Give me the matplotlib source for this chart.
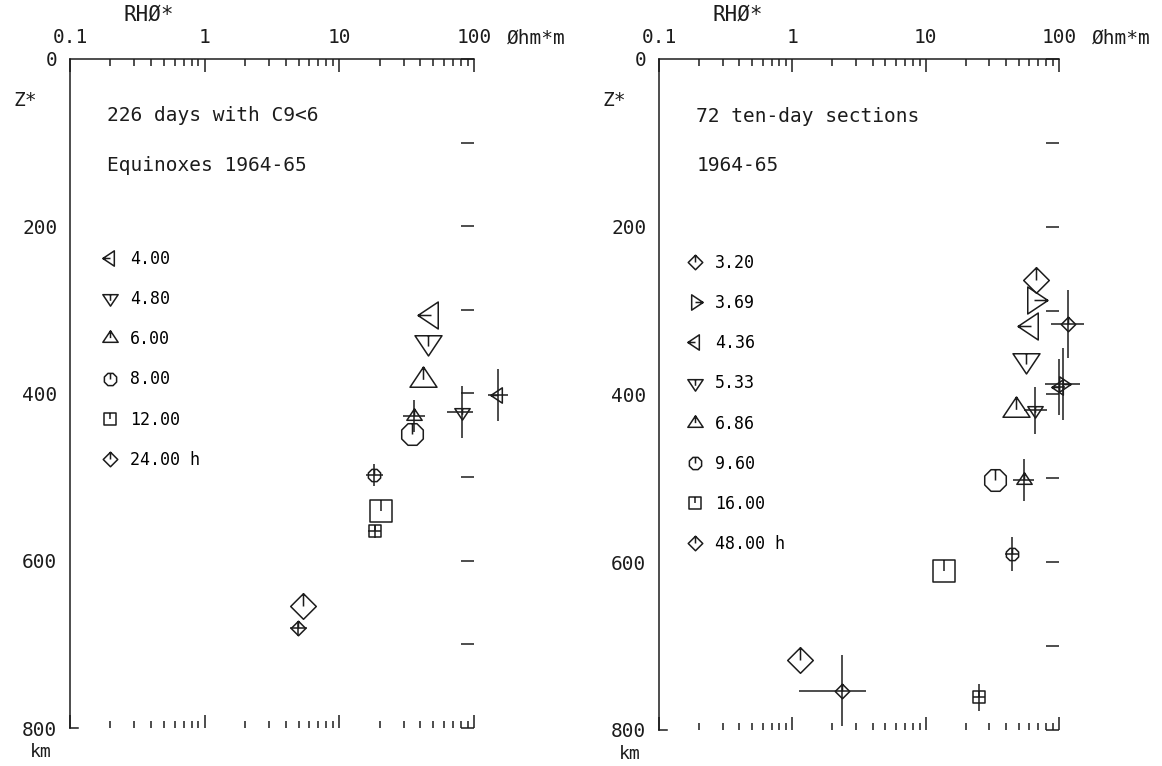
import matplotlib
matplotlib.use('Agg')
import matplotlib.pyplot as plt
from matplotlib.path import Path
from matplotlib.lines import Line2D
from matplotlib.ticker import MultipleLocator, NullFormatter

plt.rcParams['font.family'] = ['DejaVu Sans Mono', 'DejaVu Sans']

INK = '#1c1c1c'

# ---- left panel: 226 quiet days, equinoxes 1964-65 ----
left_labels = ['4.00', '4.80', '6.00', '8.00', '12.00', '24.00 h']
left_marks = ['left', 'down', 'up', 'circle', 'square', 'diamond']
# large symbols (no error bars)
left_rho = [47.8, 45.9, 41.9, 34.6, 20.5, 5.38]
left_z = [306, 338, 384, 449, 541, 654]
# small symbols with error bars
left_rho_e = [150, 81.1, 35.9, 18.2, 18.3, 4.97]
left_z_e = [402, 422, 427, 497.5, 565, 681]
left_dz = [31, 31, 19, 13.5, 8, 9]
left_flo = [1.19, 1.28, 1.21, 1.15, 1.12, 1.15]
left_fhi = [1.19, 1.22, 1.21, 1.15, 1.12, 1.15]

# ---- right panel: 72 ten-day sections 1964-65 ----
right_labels = ['3.20', '3.69', '4.36', '5.33', '6.86', '9.60', '16.00', '48.00 h']
right_marks = ['diamond', 'right', 'left', 'down', 'up', 'circle', 'square', 'diamond']
right_rho = [67.7, 65.0, 62.2, 57.1, 47.9, 33.3, 13.8, 1.135]
right_z = [263, 287, 318, 359, 418, 502, 611, 716]
right_rho_e = [116, 106.4, 99.8, 66.7, 54.3, 44.7, 25.1, 2.34]
right_z_e = [316, 388, 391, 419, 502, 590, 761, 753]
right_dz = [40, 43, 33, 28, 25, 20, 16, 42]
right_flo = [1.32, 1.355, 1.12, 1.21, 1.2, 1.13, 1.11, 2.10]
right_fhi = [1.32, 1.355, 1.12, 1.21, 1.2, 1.13, 1.11, 1.52]


def shape(kind):
    # plotter-style symbols: outline plus a short "hand" to the centre
    if kind == 'left':
        poly = [(-1, 0), (0.5, 1), (0.5, -1)]
        hand = [(-1, 0), (0, 0)]
    elif kind == 'right':
        poly = [(1, 0), (-0.5, -1), (-0.5, 1)]
        hand = [(1, 0), (0, 0)]
    elif kind == 'down':
        poly = [(-1, 0.5), (1, 0.5), (0, -1)]
        hand = [(0, 0.5), (0, -0.3)]
    elif kind == 'up':
        poly = [(-1, -0.5), (1, -0.5), (0, 1)]
        hand = [(0, 1), (0, 0.05)]
    elif kind == 'circle':
        r, a = 0.8, 0.331
        poly = [(a, r), (r, a), (r, -a), (a, -r), (-a, -r), (-r, -a), (-r, a), (-a, r)]
        hand = [(0, r), (0, 0)]
    elif kind == 'square':
        s = 0.78
        poly = [(-s, -s), (s, -s), (s, s), (-s, s)]
        hand = [(0, s), (0, 0)]
    else:
        d = 0.95
        poly = [(0, d), (d, 0), (0, -d), (-d, 0)]
        hand = [(0, d), (0, 0)]
    verts = [(1, 1)] + poly + [poly[0]] + hand
    codes = ([Path.MOVETO, Path.MOVETO] + [Path.LINETO] * (len(poly) - 1)
             + [Path.CLOSEPOLY, Path.MOVETO, Path.LINETO])
    return Path(verts, codes)


def panel(ax, labels, marks, rho, z, rho_e, z_e, dz, flo, fhi, lines, leg_anchor):
    ax.set_xscale('log')
    ax.set_xlim(0.1, 100)
    ax.set_ylim(800, 0)

    for i in range(len(labels)):
        m = shape(marks[i])
        x, y = rho_e[i], z_e[i]
        eb = ax.errorbar(x, y, xerr=[[x - x / flo[i]], [x * fhi[i] - x]], yerr=dz[i],
                         fmt='none', ecolor=INK, elinewidth=1.1, capsize=0)
        for art in eb.get_children():
            art.set_clip_on(False)
        ax.plot(x, y, marker=m, ms=11, mfc='none', mec=INK, mew=1.1,
                ls='none', clip_on=False)
        ax.plot(rho[i], z[i], marker=m, ms=19.4, mfc='none', mec=INK, mew=1.1,
                ls='none', clip_on=False)

    handles = [Line2D([], [], marker=shape(k), ms=11, mfc='none', mec=INK,
                      mew=1.1, ls='none') for k in marks]
    ax.legend(handles, labels, loc='upper left', bbox_to_anchor=leg_anchor,
              frameon=False, fontsize=12, handlelength=1.0, handletextpad=0.7,
              labelspacing=1.33, borderpad=0, borderaxespad=0)

    ax.text(0.19, 68, lines[0], fontsize=14, color=INK, va='center')
    ax.text(0.19, 127, lines[1], fontsize=14, color=INK, va='center')

    # axes in plotter style
    for side in ['top', 'left', 'bottom']:
        ax.spines[side].set_linewidth(1.1)
        ax.spines[side].set_color(INK)
    ax.spines['right'].set_visible(False)
    ax.spines['bottom'].set_bounds(0.1, 0.115)

    ax.set_xticks([0.1, 1, 10, 100], labels=['0.1', '1', '10', '100'])
    ax.xaxis.set_minor_formatter(NullFormatter())
    ax.tick_params(axis='x', which='both', direction='in', top=True, bottom=True,
                   labeltop=True, labelbottom=False, width=1.1, color=INK,
                   labelcolor=INK)
    ax.tick_params(axis='x', which='major', length=9.5, pad=8.5, labelsize=14)
    ax.tick_params(axis='x', which='minor', length=5)

    ax.yaxis.set_major_locator(MultipleLocator(200))
    ax.yaxis.set_minor_locator(MultipleLocator(100))
    ax.tick_params(axis='y', which='both', direction='in', left=False, right=True,
                   labelleft=True, labelright=False, length=9.4, width=1.1,
                   color=INK, labelcolor=INK, labelsize=14, pad=9)

    ax.annotate('Øhm*m', xy=(1, 1), xycoords='axes fraction', xytext=(24, 8.5),
                textcoords='offset points', fontsize=14, color=INK, va='bottom')
    ax.annotate('RHØ*', xy=(0, 1), xycoords='axes fraction', xytext=(57, 32),
                textcoords='offset points', fontsize=15, color=INK,
                ha='center', va='center')
    ax.annotate('Z*', xy=(0, 1), xycoords='axes fraction', xytext=(-32, -30),
                textcoords='offset points', fontsize=14, color=INK,
                ha='center', va='center')
    ax.annotate('km', xy=(0, 0), xycoords='axes fraction', xytext=(-21, -17),
                textcoords='offset points', fontsize=13, color=INK,
                ha='center', va='center')


fig = plt.figure(figsize=(11.62, 7.66), dpi=100)
ax1 = fig.add_axes([0.0602, 0.0496, 0.3477, 0.8734])
ax2 = fig.add_axes([0.5671, 0.0470, 0.3442, 0.8760])

panel(ax1, left_labels, left_marks, left_rho, left_z, left_rho_e, left_z_e,
      left_dz, left_flo, left_fhi, ['226 days with C9<6', 'Equinoxes 1964-65'],
      (0.078, 0.7145))
panel(ax2, right_labels, right_marks, right_rho, right_z, right_rho_e, right_z_e,
      right_dz, right_flo, right_fhi, ['72 ten-day sections', '1964-65'],
      (0.069, 0.7094))

fig.savefig('out.png', dpi=100)
